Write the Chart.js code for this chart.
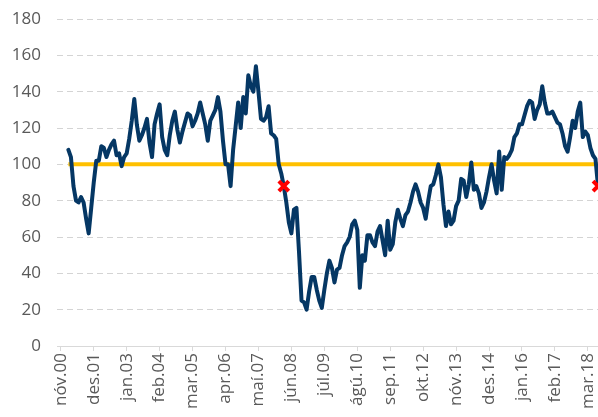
<!DOCTYPE html>
<html>
<head>
<meta charset="utf-8">
<script src="https://cdn.jsdelivr.net/npm/chart.js@4.4.1/dist/chart.umd.min.js"></script>
<style>
  html, body { margin: 0; padding: 0; background: #ffffff; overflow: hidden; }
  #wrap { width: 598px; height: 417px; }
</style>
</head>
<body>
<div id="wrap"><canvas id="c" width="598" height="417"></canvas></div>
<script>
// Tick labels on the x axis (every 13th month, starting nóv.00)
const tickLabels = ['nóv.00','des.01','jan.03','feb.04','mar.05','apr.06','maí.07','jún.08','júl.09','ágú.10','sep.11','okt.12','nóv.13','des.14','jan.16','feb.17','mar.18'];
const monthsPerTick = 13;

// Monthly index values, index 0 = nóv.00
const values = [
  null, null, null, 108, 104, 88, 80, 79, 82, 79,
  70, 62, 76, 90, 102, 102, 110, 109, 104, 108,
  111, 113, 105, 106, 99, 104, 106, 114, 124, 136,
  122, 113, 116, 120, 125, 112, 104, 122, 128, 133,
  115, 108, 105, 116, 124, 129, 119, 112, 118, 123,
  128, 127, 121, 124, 128, 134, 128, 122, 113, 124,
  127, 130, 137, 129, 113, 100, 100, 88, 108, 121,
  134, 120, 137, 128, 149, 143, 140, 154, 140, 125,
  124, 126, 132, 117, 116, 114, 100, 95, 88, 79,
  68, 62, 75, 76, 52, 25, 24, 20, 30, 38,
  38, 31, 25, 21, 31, 40, 47, 43, 35, 42,
  43, 50, 55, 57, 60, 67, 69, 64, 32, 50,
  47, 61, 61, 57, 55, 63, 66, 58, 50, 69,
  53, 56, 68, 75, 70, 66, 72, 74, 79, 85,
  89, 85, 79, 76, 70, 80, 88, 89, 94, 100,
  93, 78, 66, 74, 67, 69, 77, 80, 92, 91,
  82, 89, 101, 86, 88, 84, 76, 79, 85, 93,
  100, 91, 84, 107, 86, 104, 103, 105, 108, 115,
  117, 122, 122, 127, 132, 135, 134, 125, 130, 133,
  143, 134, 128, 128, 129, 126, 123, 122, 117, 110,
  107, 115, 124, 120, 129, 134, 115, 118, 116, 109,
  105, 103, 88
];

// Reference level (orange line)
const referenceLevel = 100;

// Red cross markers (month index, value)
const markerMonths = [88, 212];
const markerValues = [88, 88];

const firstData = values.findIndex(v => v !== null);
const lastData = values.length - 1;

const lineData = values.map((v, i) => ({ x: i, y: v }));
const refData = [{ x: firstData, y: referenceLevel }, { x: lastData, y: referenceLevel }];
const markerData = markerMonths.map((m, k) => ({ x: m, y: markerValues[k] }));

const FONT = "'Open Sans', 'DejaVu Sans', sans-serif";

new Chart(document.getElementById('c'), {
  type: 'line',
  data: {
    datasets: [
      {
        data: markerData,
        showLine: false,
        pointStyle: 'crossRot',
        pointRadius: 7,
        pointBorderWidth: 4,
        pointBorderColor: '#ff0000',
        pointBackgroundColor: '#ff0000',
        clip: false,
        order: 0
      },
      {
        data: lineData,
        borderColor: '#053764',
        borderWidth: 4,
        pointRadius: 0,
        tension: 0,
        borderJoinStyle: 'round',
        borderCapStyle: 'round',
        spanGaps: false,
        order: 1
      },
      {
        data: refData,
        borderColor: '#ffc000',
        borderWidth: 4,
        pointRadius: 0,
        order: 2
      }
    ]
  },
  options: {
    responsive: false,
    animation: false,
    events: [],
    layout: { autoPadding: false, padding: { top: 19, right: 0, left: 0, bottom: 0 } },
    plugins: { legend: { display: false }, tooltip: { enabled: false } },
    scales: {
      x: {
        type: 'linear',
        min: -1.5,
        max: lastData,
        afterBuildTicks: (scale) => {
          scale.ticks = tickLabels.map((_, k) => ({ value: k * monthsPerTick }));
        },
        afterFit: (scale) => {
          scale.height = 71;
          scale.paddingLeft = 0;
          scale.paddingRight = 0;
        },
        ticks: {
          autoSkip: false,
          maxRotation: 90,
          minRotation: 90,
          padding: 2,
          color: '#595959',
          font: { family: FONT, size: 17 },
          callback: (value) => tickLabels[Math.round(value / monthsPerTick)]
        },
        grid: {
          drawOnChartArea: false,
          drawTicks: true,
          tickLength: 5,
          color: '#d9d9d9'
        },
        border: { display: true, color: '#d9d9d9', width: 1 }
      },
      y: {
        min: 0,
        max: 180,
        afterFit: (scale) => {
          scale.width = 57;
          scale.paddingTop = 0;
          scale.paddingBottom = 0;
        },
        ticks: {
          stepSize: 20,
          padding: 16,
          color: '#595959',
          font: { family: FONT, size: 17 }
        },
        grid: {
          drawTicks: false,
          lineWidth: 1,
          color: (ctx) => (ctx.tick && ctx.tick.value === 0) ? 'rgba(0,0,0,0)' : '#d4d4d4'
        },
        border: { display: false, dash: [6, 4] }
      }
    }
  }
});
</script>
</body>
</html>
